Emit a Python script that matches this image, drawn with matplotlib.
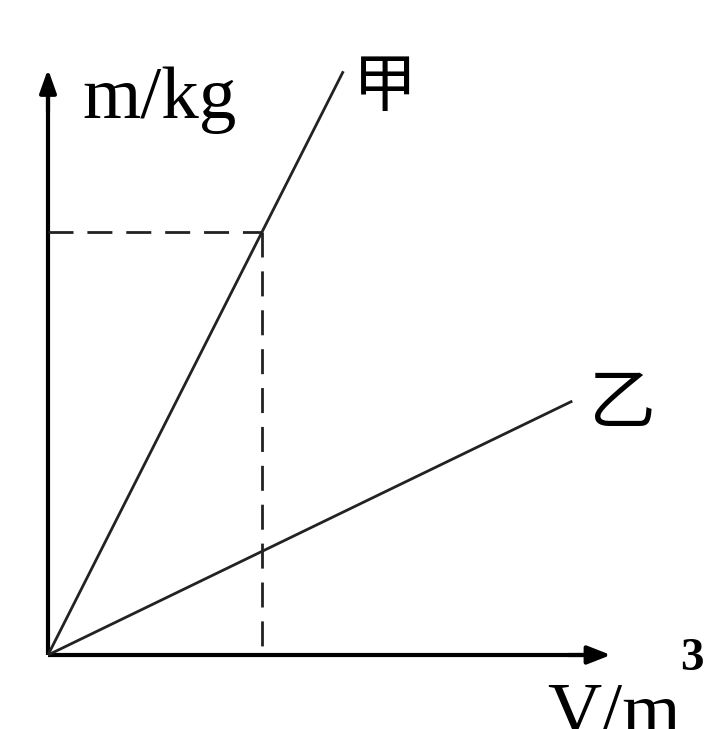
import matplotlib
matplotlib.use("Agg")
import matplotlib.pyplot as plt
import numpy as np

# ---- data (abstract units: V on x, m on y) ----
line_names = ["甲", "乙"]
densities = [2.0, 0.49]           # slope m/V for each line
line_ends_V = [1.38, 2.45]        # V where each line stops
dash_V = 1.0                      # dashed guide at this volume
x_label = "V/m"
x_label_sup = "3"
y_label = "m/kg"
x_axis_end = 2.63
y_axis_end = 2.77

W, H = 707, 729
fig = plt.figure(figsize=(W / 100, H / 100), dpi=100)
ax = fig.add_axes([0, 0, 1, 1])
ax.set_xlim(-48 / 214, (W - 48) / 214)
ax.set_ylim(-(H - 655) / 211.5, 655 / 211.5)
ax.axis("off")

# axes with arrow heads
ax.plot([0, x_axis_end - 0.1], [0, 0], color="black", lw=3.0, solid_capstyle="butt")
ax.plot([0, 0], [0, y_axis_end - 0.1], color="black", lw=3.0, solid_capstyle="butt")
ax.annotate("", xy=(x_axis_end, 0), xytext=(x_axis_end - 0.2, 0),
            arrowprops=dict(arrowstyle="-|>,head_length=1.4,head_width=0.55",
                            color="black", lw=3.0, shrinkA=0, shrinkB=0))
ax.annotate("", xy=(0, y_axis_end), xytext=(0, y_axis_end - 0.2),
            arrowprops=dict(arrowstyle="-|>,head_length=1.4,head_width=0.5",
                            color="black", lw=3.0, shrinkA=0, shrinkB=0))

# lines
for d, ve in zip(densities, line_ends_V):
    v = np.array([0, ve])
    ax.plot(v, d * v, color="#222222", lw=2.0, solid_capstyle="butt")

# dashed guides
m_at = densities[0] * dash_V
ax.plot([0, dash_V], [m_at, m_at], color="#222222", lw=2.0, dashes=(9, 5))
ax.plot([dash_V, dash_V], [m_at, 0], color="#222222", lw=2.0, dashes=(9, 5))

cjk = ["Noto Sans CJK SC", "DejaVu Sans"]
# line labels
ax.text(line_ends_V[0] + 0.195, densities[0] * line_ends_V[0] - 0.08, line_names[0],
        fontsize=46, family=cjk, weight="light", ha="center", va="center")
ax.text(line_ends_V[1] + 0.232, densities[1] * line_ends_V[1] - 0.014, line_names[1],
        fontsize=48, family=cjk, weight="light", ha="center", va="center")

# axis labels
ax.text(0.159, 2.539, y_label, fontsize=54, family="Liberation Serif",
        ha="left", va="baseline")
ax.text(2.332, -0.37, x_label, fontsize=54, family="Liberation Serif",
        ha="left", va="baseline")
ax.text(3.009, -0.019, x_label_sup, fontsize=34, family="Liberation Serif",
        weight="bold", ha="center", va="center")

fig.savefig("out.png", dpi=100)
